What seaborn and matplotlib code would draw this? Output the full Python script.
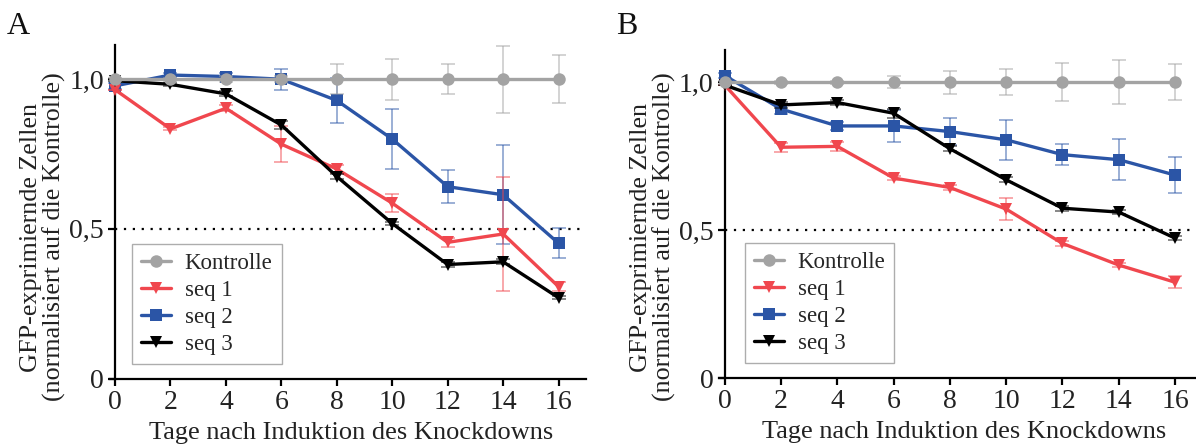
import numpy as np
import pandas as pd
import matplotlib
matplotlib.use("Agg")
import matplotlib.pyplot as plt
import seaborn as sns

# ---------------- data ----------------
days = [0, 2, 4, 6, 8, 10, 12, 14, 16]
series_names = ["Kontrolle", "seq 1", "seq 2", "seq 3"]

A_kontrolle = [1.0, 1.0, 1.0, 1.0, 1.0, 1.0, 1.0, 1.0, 1.0]
A_kontrolle_err = [0.005, 0.005, 0.01, 0.01, 0.05, 0.068, 0.05, 0.112, 0.08]
A_seq1 = [0.965, 0.834, 0.903, 0.783, 0.700, 0.586, 0.455, 0.483, 0.307]
A_seq1_err = [0.0, 0.005, 0.01, 0.06, 0.012, 0.03, 0.015, 0.19, 0.015]
A_seq2 = [0.978, 1.014, 1.009, 1.000, 0.929, 0.800, 0.641, 0.614, 0.452]
A_seq2_err = [0.01, 0.008, 0.012, 0.035, 0.075, 0.10, 0.055, 0.165, 0.05]
A_seq3 = [0.995, 0.983, 0.951, 0.847, 0.675, 0.518, 0.381, 0.390, 0.270]
A_seq3_err = [0.0, 0.005, 0.008, 0.012, 0.008, 0.005, 0.008, 0.008, 0.005]

B_kontrolle = [1.0, 1.0, 1.0, 1.0, 1.0, 1.0, 1.0, 1.0, 1.0]
B_kontrolle_err = [0.005, 0.005, 0.005, 0.02, 0.039, 0.045, 0.065, 0.074, 0.06]
B_seq1 = [0.99, 0.780, 0.783, 0.676, 0.644, 0.571, 0.455, 0.382, 0.324]
B_seq1_err = [0.0, 0.015, 0.015, 0.008, 0.008, 0.036, 0.008, 0.008, 0.02]
B_seq2 = [1.022, 0.909, 0.852, 0.852, 0.833, 0.805, 0.755, 0.738, 0.686]
B_seq2_err = [0.008, 0.015, 0.015, 0.055, 0.047, 0.068, 0.036, 0.07, 0.06]
B_seq3 = [0.99, 0.923, 0.931, 0.895, 0.775, 0.670, 0.574, 0.561, 0.473]
B_seq3_err = [0.0, 0.01, 0.008, 0.015, 0.008, 0.008, 0.008, 0.008, 0.008]

x_ticks = [0, 2, 4, 6, 8, 10, 12, 14, 16]
y_ticks = [0, 0.5, 1.0]
y_ticklabels = ["0", "0,5", "1,0"]
x_label = "Tage nach Induktion des Knockdowns"
y_label = "GFP-exprimiernde Zellen\n(normalisiert auf die Kontrolle)"
panel_labels = ["A", "B"]

colors = {"Kontrolle": "#a3a3a3", "seq 1": "#f0474e", "seq 2": "#2b55a6", "seq 3": "#000000"}
markers = {"Kontrolle": "o", "seq 1": "v", "seq 2": "s", "seq 3": "v"}
zorders = {"Kontrolle": 6, "seq 1": 4, "seq 2": 3, "seq 3": 5}

# ---------------- style ----------------
sns.set_theme(style="ticks")
plt.rcParams["font.family"] = ["Liberation Serif", "DejaVu Serif"]
plt.rcParams["axes.linewidth"] = 1.6
plt.rcParams["xtick.major.width"] = 1.6
plt.rcParams["ytick.major.width"] = 1.6
plt.rcParams["xtick.major.size"] = 5
plt.rcParams["ytick.major.size"] = 5

fig = plt.figure(figsize=(11.96, 4.48), dpi=100)
axA = fig.add_axes([0.0962, 0.155, 0.394, 0.745])
axB = fig.add_axes([0.606, 0.156, 0.400, 0.732])

panels = [
    (axA, {"Kontrolle": (A_kontrolle, A_kontrolle_err), "seq 1": (A_seq1, A_seq1_err),
           "seq 2": (A_seq2, A_seq2_err), "seq 3": (A_seq3, A_seq3_err)}, 1.115,
     (0.036, 0.403), (-0.104, 0.424)),
    (axB, {"Kontrolle": (B_kontrolle, B_kontrolle_err), "seq 1": (B_seq1, B_seq1_err),
           "seq 2": (B_seq2, B_seq2_err), "seq 3": (B_seq3, B_seq3_err)}, 1.108,
     (0.042, 0.412), (-0.103, 0.43)),
]

for (ax, sdict, ytop, legpos, ylabpos), plabel in zip(panels, panel_labels):
    rows = []
    for name in series_names:
        vals, errs = sdict[name]
        for d, v, e in zip(days, vals, errs):
            rows.append({"Tag": d, "Wert": v, "Fehler": e, "Serie": name})
    df = pd.DataFrame(rows)

    # error bars (lighter)
    for name in series_names:
        sub = df[df["Serie"] == name]
        ax.errorbar(sub["Tag"], sub["Wert"], yerr=sub["Fehler"], fmt="none",
                    ecolor=colors[name], alpha=0.55, elinewidth=1.2, capsize=5,
                    capthick=1.2, zorder=zorders[name] - 0.5, clip_on=False)

    # lines + markers via seaborn
    for name in series_names:
        sub = df[df["Serie"] == name]
        sns.lineplot(data=sub, x="Tag", y="Wert", ax=ax, color=colors[name],
                     marker=markers[name], markersize=9, markeredgewidth=0,
                     linewidth=2.4, errorbar=None, label=name,
                     zorder=zorders[name], clip_on=False)

    ax.axhline(0.5, color="black", linestyle=(0, (1, 3)), linewidth=1.6, zorder=1)

    ax.set_xlim(0, 17)
    ax.set_ylim(0, ytop)
    ax.set_xticks(x_ticks)
    ax.set_xticklabels([str(t) for t in x_ticks], fontsize=20)
    ax.set_yticks(y_ticks)
    ax.set_yticklabels(y_ticklabels, fontsize=20)
    ax.tick_params(axis="both", colors="black", pad=3, labelcolor="#222222")
    ax.set_xlabel(x_label, fontsize=19, labelpad=5, color="#222222")
    ax.set_ylabel(y_label, fontsize=18.8, color="#222222", linespacing=1.02)
    ax.yaxis.set_label_coords(*ylabpos)
    sns.despine(ax=ax)
    ax.spines["left"].set_color("black")
    ax.spines["bottom"].set_color("black")
    ax.spines["bottom"].set_bounds(-0.2, 17)

    handles, labels = ax.get_legend_handles_labels()
    leg = ax.legend(handles, labels, loc="upper left", bbox_to_anchor=legpos,
                    borderaxespad=0, fontsize=16.5, frameon=True, fancybox=False,
                    edgecolor="#999999", handlelength=1.3, handletextpad=0.6,
                    labelspacing=0.25, borderpad=0.4)
    leg.get_frame().set_linewidth(1.0)
    leg.set_zorder(10)

fig.text(0.006, 0.925, panel_labels[0], fontsize=23, color="#111111")
fig.text(0.515, 0.925, panel_labels[1], fontsize=23, color="#111111")

fig.savefig("out.png", dpi=100)
